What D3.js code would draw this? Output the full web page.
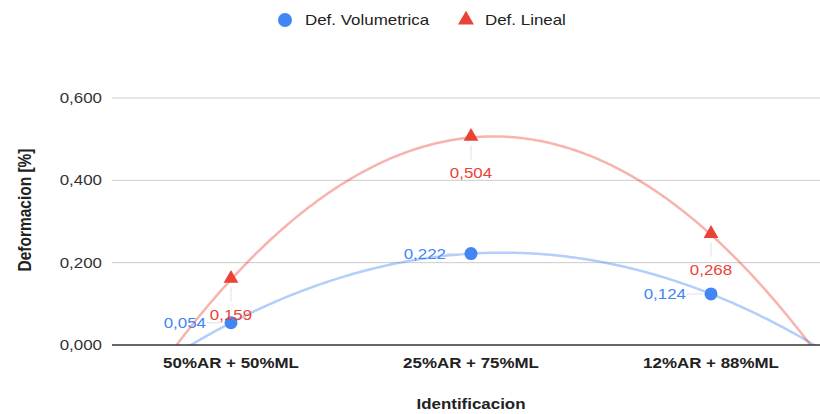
<!DOCTYPE html>
<html>
<head>
<meta charset="utf-8">
<script src="https://cdn.jsdelivr.net/npm/d3@7"></script>
<style>
  body { margin: 0; background: #fff; }
  text { font-family: "Liberation Sans", Arial, sans-serif; }
</style>
</head>
<body>
<svg id="chart"></svg>
<script>
// data
const categories = ["50%AR + 50%ML", "25%AR + 75%ML", "12%AR + 88%ML"];
const volumetrica = [0.054, 0.222, 0.124];
const lineal = [0.159, 0.504, 0.268];
const yTicks = [0, 0.2, 0.4, 0.6];

const width = 820, height = 414;
const sx = 1.21; // the picture's text is a bit wide
const svg = d3.select("#chart").attr("width", width).attr("height", height);

// x positions 1..3 on a linear scale so the trendline can run between them
const x = d3.scaleLinear().domain([0.5, 3.5]).range([111, 831]);
const y = d3.scaleLinear().domain([0, 0.6]).range([345, 98]);

const fmt = (v) => d3.format(".3f")(v).replace(".", ",");

// text helper, stretched horizontally
function label(g, tx, ty, str, anchor, opts) {
  const o = Object.assign({ size: 14, weight: "normal", fill: "#444", rotate: 0 }, opts || {});
  return g.append("text")
    .attr("transform", `translate(${tx},${ty}) scale(${sx},1)` + (o.rotate ? ` rotate(${o.rotate})` : ""))
    .attr("text-anchor", anchor)
    .attr("font-size", o.size)
    .attr("font-weight", o.weight)
    .attr("fill", o.fill)
    .text(str);
}

// gridlines
svg.append("g")
  .selectAll("line")
  .data(yTicks.slice(1))
  .enter()
  .append("line")
  .attr("x1", 112).attr("x2", width)
  .attr("y1", (d) => y(d)).attr("y2", (d) => y(d))
  .attr("stroke", "#cccccc").attr("stroke-width", 1);

// y axis labels
const yl = svg.append("g");
yTicks.forEach((d) => label(yl, 102, y(d) + 5, fmt(d), "end", { fill: "#333" }));

// x axis labels
const xl = svg.append("g");
categories.forEach((d, i) => label(xl, x(i + 1), 368, d, "middle", { weight: "bold", fill: "#222" }));

// axis titles
label(svg, 471, 409, "Identificacion", "middle", { weight: "bold", fill: "#222" });
label(svg, 31, 210, "Deformacion [%]", "middle", { weight: "bold", fill: "#222", size: 15.5, rotate: -90 });

// quadratic least squares fit, like the sheet's polynomial trendline
function polyFit(vals) {
  const xs = vals.map((d, i) => i + 1);
  const n = xs.length;
  const s = (f) => d3.sum(xs.map((xi, i) => f(xi, vals[i])));
  const m = [
    [n, s((a) => a), s((a) => a * a), s((a, b) => b)],
    [s((a) => a), s((a) => a * a), s((a) => a ** 3), s((a, b) => a * b)],
    [s((a) => a * a), s((a) => a ** 3), s((a) => a ** 4), s((a, b) => a * a * b)],
  ];
  for (let i = 0; i < 3; i++) {
    for (let k = i + 1; k < 3; k++) {
      const f = m[k][i] / m[i][i];
      for (let j = i; j < 4; j++) m[k][j] -= f * m[i][j];
    }
  }
  const c = [0, 0, 0];
  for (let i = 2; i >= 0; i--) {
    let v = m[i][3];
    for (let j = i + 1; j < 3; j++) v -= m[i][j] * c[j];
    c[i] = v / m[i][i];
  }
  return (t) => c[0] + c[1] * t + c[2] * t * t;
}

svg.append("clipPath").attr("id", "plot")
  .append("rect").attr("x", 111).attr("y", 60).attr("width", 720).attr("height", 285);

const line = d3.line().x((d) => x(d[0])).y((d) => y(d[1]));

function trend(vals, color) {
  const f = polyFit(vals);
  const pts = d3.range(0.5, 3.5001, 0.01).map((t) => [t, f(t)]);
  svg.append("path")
    .attr("d", line(pts))
    .attr("clip-path", "url(#plot)")
    .attr("fill", "none")
    .attr("stroke", color)
    .attr("stroke-opacity", 0.4)
    .attr("stroke-width", 2.5);
}

trend(volumetrica, "#4285f4");
trend(lineal, "#ea4335");

// baseline
svg.append("line")
  .attr("x1", 112).attr("x2", width)
  .attr("y1", y(0)).attr("y2", y(0))
  .attr("stroke", "#333").attr("stroke-width", 1.3);

// leader lines
svg.append("g")
  .selectAll("line")
  .data(volumetrica)
  .enter()
  .append("line")
  .attr("x1", (d, i) => x(i + 1) - 24).attr("x2", (d, i) => x(i + 1) - 8)
  .attr("y1", (d) => y(d)).attr("y2", (d) => y(d))
  .attr("stroke", "#e0e0e0").attr("stroke-width", 1);

svg.append("g")
  .selectAll("line")
  .data(lineal)
  .enter()
  .append("line")
  .attr("x1", (d, i) => x(i + 1)).attr("x2", (d, i) => x(i + 1))
  .attr("y1", (d) => y(d) + 8).attr("y2", (d) => y(d) + 22)
  .attr("stroke", "#e0e0e0").attr("stroke-width", 1);

// markers
svg.append("g")
  .selectAll("circle")
  .data(volumetrica)
  .enter()
  .append("circle")
  .attr("cx", (d, i) => x(i + 1))
  .attr("cy", (d) => y(d))
  .attr("r", 6.5)
  .attr("fill", "#4285f4");

const tri = d3.symbol().type(d3.symbolTriangle).size(95);
svg.append("g")
  .selectAll("path")
  .data(lineal)
  .enter()
  .append("path")
  .attr("d", tri)
  .attr("transform", (d, i) => `translate(${x(i + 1)},${y(d) - 1})`)
  .attr("fill", "#ea4335");

// data labels
const dl = svg.append("g");
volumetrica.forEach((d, i) => label(dl, x(i + 1) - 25, y(d) + 5, fmt(d), "end", { fill: "#4285f4" }));
lineal.forEach((d, i) => label(dl, x(i + 1), y(d) + 40, fmt(d), "middle", { fill: "#ea4335" }));

// legend
const legend = svg.append("g");
legend.append("circle").attr("cx", 285).attr("cy", 20).attr("r", 7).attr("fill", "#4285f4");
label(legend, 305, 25, "Def. Volumetrica", "start", { fill: "#222" });
legend.append("path").attr("d", d3.symbol().type(d3.symbolTriangle).size(110))
  .attr("transform", "translate(466,20)").attr("fill", "#ea4335");
label(legend, 485, 25, "Def. Lineal", "start", { fill: "#222" });
</script>
</body>
</html>
